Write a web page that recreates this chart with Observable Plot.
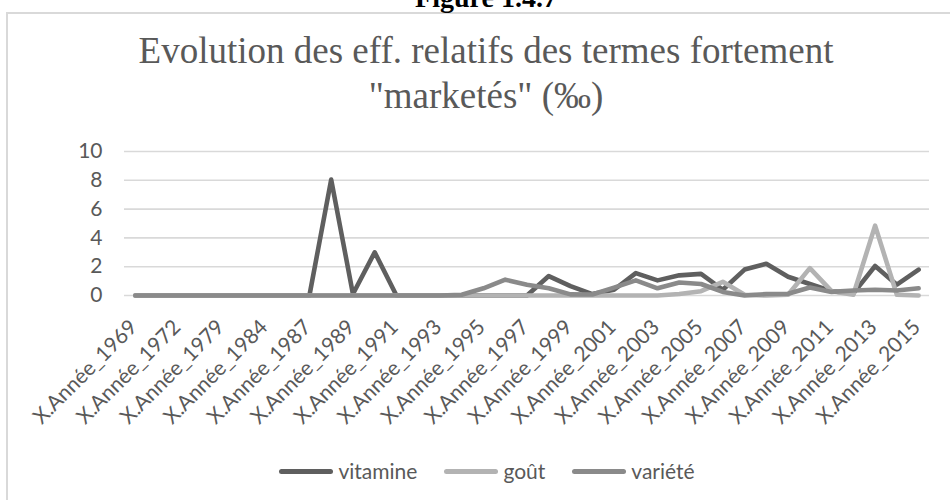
<!DOCTYPE html>
<html><head><meta charset="utf-8">
<script src="https://cdn.jsdelivr.net/npm/d3@7"></script>
<script src="https://cdn.jsdelivr.net/npm/@observablehq/plot@0.6"></script>
<style>
body{margin:0;background:#fff;}
#wrap{position:relative;width:950px;height:500px;overflow:hidden;background:#fff;}
#frame{position:absolute;left:6px;top:12px;width:1000px;height:600px;border-left:2px solid #d9d9d9;border-top:2px solid #d9d9d9;}
#fig{position:absolute;left:386px;width:200px;top:-16px;text-align:center;font:bold 28px/28px "Liberation Serif",serif;color:#000;white-space:nowrap;}
#title{position:absolute;left:86px;width:800px;top:28px;text-align:center;font:37px/45px "Liberation Serif",serif;color:#595959;white-space:nowrap;}
#chart{position:absolute;left:0;top:140px;}
#legend{position:absolute;left:0;width:974px;top:457px;display:flex;justify-content:center;gap:27px;font:21px/28px Lato,sans-serif;color:#595959;}
.item{display:flex;align-items:center;gap:5px;}
.sw{width:54px;height:5px;border-radius:3px;}
</style></head><body>
<div id="wrap">
 <div id="frame"></div>
 <div id="fig">Figure 1.4.7</div>
 <div id="title">Evolution des eff. relatifs des termes fortement<br>"marketés" (‰)</div>
 <div id="chart"></div>
 <div id="legend"></div>
</div>
<script>
const years = [1969,1970,1972,1975,1979,1982,1984,1985,1987,1988,1989,1990,1991,1992,1993,1994,1995,1996,1997,1998,1999,2000,2001,2002,2003,2004,2005,2006,2007,2008,2009,2010,2011,2012,2013,2014,2015];
const categories = years.map(y => "X.Année_" + y);
const vitamine = [0,0,0,0,0,0,0,0,0,8.05,0.1,3.0,0,0,0,0,0,0,0,1.35,0.65,0.1,0.4,1.55,1.05,1.4,1.5,0.4,1.8,2.2,1.3,0.8,0.3,0.15,2.05,0.75,1.8];
const gout     = [0,0,0,0,0,0,0,0,0,0,0,0,0,0,0,0,0,0,0,0,0,0,0,0,0,0.1,0.3,0.95,0.05,0,0.05,1.9,0.3,0.05,4.85,0.05,0];
const variete  = [0,0,0,0,0,0,0,0,0,0,0,0,0,0,0,0.05,0.5,1.1,0.75,0.5,0.08,0.07,0.55,1.05,0.5,0.9,0.8,0.25,0,0.1,0.12,0.55,0.25,0.35,0.4,0.35,0.5];
const seriesNames = ["vitamine","goût","variété"];
const seriesColors = ["#5f5f5f","#b3b3b3","#8a8a8a"];
const yTicks = [0,2,4,6,8,10];
const xTickLabels = categories.filter((d,i) => i % 2 === 0);

const seriesValues = [vitamine, gout, variete];
const rows = seriesNames.flatMap((s, k) => categories.map((c, i) => ({cat: c, value: seriesValues[k][i], serie: s})));

const chart = Plot.plot({
  width: 950,
  height: 300,
  marginTop: 11,
  marginBottom: 145,
  marginLeft: 124,
  marginRight: 21,
  style: {fontFamily: "Lato, sans-serif", fontSize: "21px", color: "#595959", background: "transparent", overflow: "visible"},
  x: {type: "point", domain: categories, padding: 0.5, round: false, axis: null},
  y: {domain: [0, 10], axis: null},
  color: {domain: seriesNames, range: seriesColors},
  marks: [
    Plot.gridY(yTicks, {stroke: "#d9d9d9", strokeOpacity: 1, strokeWidth: 1.6}),
    Plot.axisY(yTicks, {tickSize: 0, tickPadding: 22, fontSize: 21, fill: "#595959", label: null}),
    Plot.axisX(xTickLabels, {tickSize: 0, tickRotate: -45, textAnchor: "end", lineAnchor: "bottom", tickPadding: 33, dx: 3, fontSize: 21, fill: "#595959", label: null}),
    Plot.lineY(rows, {x: "cat", y: "value", z: "serie", stroke: "serie", strokeWidth: 4.6, strokeLinejoin: "round", strokeLinecap: "round"})
  ]
});
document.getElementById("chart").appendChild(chart);

const legend = d3.select("#legend");
seriesNames.forEach((s, k) => {
  const it = legend.append("div").attr("class", "item");
  it.append("div").attr("class", "sw").style("background", seriesColors[k]);
  it.append("span").text(s);
});
</script>
</body></html>
